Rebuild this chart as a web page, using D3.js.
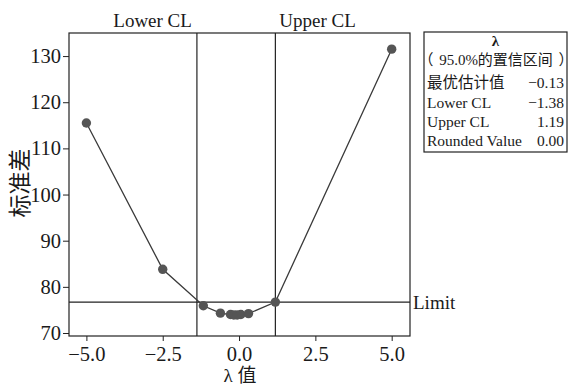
<!DOCTYPE html>
<html>
<head>
<meta charset="utf-8">
<script src="https://cdn.jsdelivr.net/npm/d3@7/dist/d3.min.js"></script>
<style>
  html, body { margin: 0; padding: 0; background: #fff; }
  svg { display: block; }
  text { font-family: "Liberation Serif", "Noto Sans CJK SC", serif; fill: #1a1a1a; }
  .halt { font-feature-settings: "halt" 1; }
</style>
</head>
<body>
<svg id="chart" width="569" height="387"></svg>
<script>
// ---- data ----
const lambdas = [-5, -2.5, -1.17, -0.61, -0.28, -0.17, -0.06, 0.06, 0.31, 1.19, 5];
const stdevs  = [115.5, 83.8, 75.9, 74.3, 74.0, 73.9, 73.9, 74.0, 74.2, 76.7, 131.5];
const xTicks = [-5.0, -2.5, 0.0, 2.5, 5.0];
const yTicks = [70, 80, 90, 100, 110, 120, 130];
const lowerCL = -1.38, upperCL = 1.19, limitVal = 76.7;
const legendTitle = "λ";
const legendSub = ["（", "95.0%的置信区间", "）"];
const legendLabels = ["最优估计值", "Lower CL", "Upper CL", "Rounded Value"];
const legendValues = ["−0.13", "−1.38", "1.19", "0.00"];

// ---- layout ----
const svg = d3.select("#chart");
const L = 69, R = 410, T = 33, B = 336;
const x = d3.scaleLinear().domain([-5.57, 5.6]).range([L, R]);
const y = d3.scaleLinear().domain([69.35, 135.0]).range([B, T]);

svg.append("rect").attr("width", 569).attr("height", 387).attr("fill", "#fff");

// axes
const xAxis = svg.append("g").attr("transform", `translate(0,${B})`)
  .call(d3.axisBottom(x).tickValues(xTicks).tickFormat(d3.format(".1f")).tickSize(5).tickPadding(5));
const yAxis = svg.append("g").attr("transform", `translate(${L},0)`)
  .call(d3.axisLeft(y).tickValues(yTicks).tickFormat(d3.format("d")).tickSize(6).tickPadding(2));
[xAxis, yAxis].forEach(g => {
  g.select(".domain").remove();
  g.selectAll("line").attr("stroke", "#222");
  g.selectAll("text").attr("font-size", 20.5).attr("font-family", "Liberation Serif").attr("fill", "#1a1a1a");
});

// frame
svg.append("rect").attr("x", L).attr("y", T).attr("width", R - L).attr("height", B - T)
  .attr("fill", "none").attr("stroke", "#222").attr("stroke-width", 1.2);

// reference lines
svg.append("line").attr("x1", L).attr("x2", R).attr("y1", y(limitVal)).attr("y2", y(limitVal))
  .attr("stroke", "#222").attr("stroke-width", 1.2);
[lowerCL, upperCL].forEach(v => {
  svg.append("line").attr("x1", x(v)).attr("x2", x(v)).attr("y1", T).attr("y2", B)
    .attr("stroke", "#222").attr("stroke-width", 1.2);
});

// line + points
const pts = lambdas.map((l, i) => [l, stdevs[i]]);
svg.append("path").datum(pts)
  .attr("d", d3.line().x(d => x(d[0])).y(d => y(d[1])))
  .attr("fill", "none").attr("stroke", "#3a3a3a").attr("stroke-width", 1.3);
svg.selectAll("circle.pt").data(pts).enter().append("circle")
  .attr("cx", d => x(d[0])).attr("cy", d => y(d[1])).attr("r", 4.7)
  .attr("fill", "#555");

// labels
svg.append("text").attr("x", x(lowerCL) - 5).attr("y", 27).attr("text-anchor", "end")
  .attr("font-size", 19).text("Lower CL");
svg.append("text").attr("x", x(upperCL) + 4).attr("y", 27).attr("text-anchor", "start")
  .attr("font-size", 19).text("Upper CL");
svg.append("text").attr("x", R + 3).attr("y", y(limitVal)).attr("dy", "0.35em")
  .attr("font-size", 19).text("Limit");

svg.append("text").attr("x", 240).attr("y", 382).attr("text-anchor", "middle")
  .attr("font-size", 19).text("λ 值");
svg.append("text").attr("transform", "translate(28,183) rotate(-90)").attr("text-anchor", "middle")
  .attr("font-size", 23).text("标准差");

// legend box
const lg = svg.append("g");
lg.append("rect").attr("x", 424).attr("y", 32).attr("width", 143).attr("height", 120)
  .attr("fill", "#fff").attr("stroke", "#222").attr("stroke-width", 1.2);
lg.append("text").attr("x", 495.5).attr("y", 46).attr("text-anchor", "middle")
  .attr("font-size", 15).attr("font-weight", "bold").text(legendTitle);
const sub = lg.append("text").attr("y", 65).attr("font-size", 15);
sub.append("tspan").attr("class", "halt").attr("x", 426).attr("text-anchor", "start").text(legendSub[0]);
sub.append("tspan").attr("x", 496).attr("text-anchor", "middle").text(legendSub[1]);
sub.append("tspan").attr("class", "halt").attr("x", 566).attr("text-anchor", "end").text(legendSub[2]);
const rowsY = [88, 108, 127, 146];
legendLabels.forEach((t, i) => {
  lg.append("text").attr("x", 427).attr("y", rowsY[i]).attr("font-size", 15.5).text(t);
  lg.append("text").attr("x", 564).attr("y", rowsY[i]).attr("text-anchor", "end")
    .attr("font-size", 15.5).text(legendValues[i]);
});
</script>
</body>
</html>
